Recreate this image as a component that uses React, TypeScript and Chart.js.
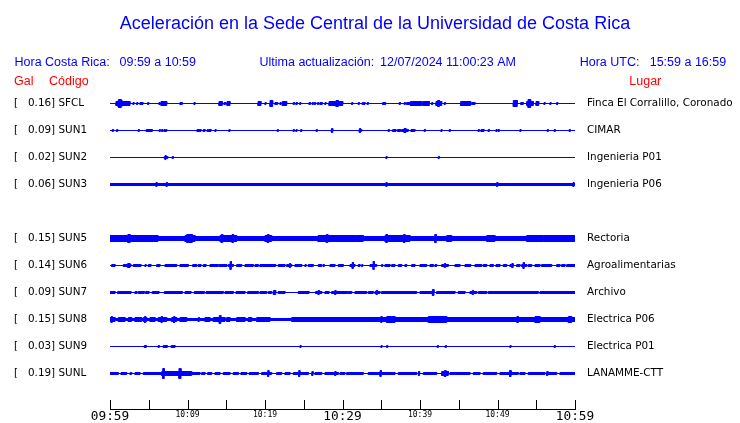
import React, { useEffect, useRef } from 'react';
import { Chart, registerables } from 'chart.js';

Chart.register(...registerables);

// ---------- Texts ----------
const TITLE = 'Aceleración en la Sede Central de la Universidad de Costa Rica';
const HDR_CR_LABEL = 'Hora Costa Rica:';
const HDR_CR_RANGE = '09:59 a 10:59';
const HDR_UPD_LABEL = 'Ultima actualización:';
const HDR_UPD_VALUE = '12/07/2024 11:00:23 AM';
const HDR_UTC_LABEL = 'Hora UTC:';
const HDR_UTC_RANGE = '15:59 a 16:59';
const COL_GAL = 'Gal';
const COL_CODE = 'Código';
const COL_PLACE = 'Lugar';

// ---------- Stations ----------
const ROWS = [0, 1, 2, 3, 4, 5, 6, 7, 8, 9, 10];
const CODES = ['SFCL', 'SUN1', 'SUN2', 'SUN3', '', 'SUN5', 'SUN6', 'SUN7', 'SUN8', 'SUN9', 'SUNL'];
const PEAK_GAL = [0.16, 0.09, 0.02, 0.06, null, 0.15, 0.14, 0.09, 0.15, 0.03, 0.19];
const PLACES = [
  'Finca El Corralillo, Coronado', 'CIMAR', 'Ingenieria P01', 'Ingenieria P06', '',
  'Rectoria', 'Agroalimentarias', 'Archivo', 'Electrica P06', 'Electrica P01', 'LANAMME-CTT',
];

// ---------- Time axis (minutes after 09:59) ----------
const X_TICK_LABELS = ['09:59', '', '10:09', '', '10:19', '', '10:29', '', '10:39', '', '10:49', '', '10:59'];
const X_MAJOR_LABELS = ['09:59', '10:29', '10:59'];

// Trace amplitude unit: one row spacing = 27 units
const AMP_UNITS_PER_ROW = 27;
// background noise half-amplitude and default burst half-amplitude per station
const NOISE = [0, 0, 0, 1, 0, 2, 0, 0, 1, 0, 0];
const BURST_DEFAULT = [1, 1, 1, 2, 0, 2, 1, 1, 2, 1, 1];

// bursts: [start minute, end minute, half amplitude?]
const SFCL = [[0.77,1.03,2],[1.03,1.55,3],[1.1,1.45,4],[1.55,2.58,2],[2.97,3.1],[3.45,3.58],[3.87,4.26],[4.86,4.99],[6.32,6.45],[6.58,7.32,2],[9.03,9.33],[10.84,10.97],[14.06,14.49,2],[14.71,14.93],[15.1,15.48,2],[19.1,19.48,2],[20,20.13],[20.65,20.99,3],[21.29,21.64],[21.94,22.07],[22.23,22.8,2],[23.65,23.8],[24,24.17],[24.48,24.61],[25.68,25.85],[26.1,26.23],[26.36,26.54],[26.8,26.93],[27.1,27.39],[27.74,27.87],[28.26,30.03,2],[29.16,29.46,3],[31.19,31.32],[32.04,32.17],[32.55,32.68],[32.77,32.9],[33.2,33.33],[35.19,35.57],[37.33,37.46],[37.97,38.1],[38.28,38.71],[38.8,40.22,2],[40.35,41.2,2],[41.51,41.64],[42.06,42.8,2],[42.26,42.52,3],[43.14,43.27],[45.25,46.54,2],[46.67,47.1],[52.04,52.55,3],[52.99,53.33],[53.77,54.62,2],[53.94,54.28,4],[54.97,55.32,2],[56,56.13],[56.77,56.9],[57.64,57.77]];
const SUN1 = [[0.3,0.43],[0.86,0.99],[3.65,3.78],[4.68,5.46],[6.36,6.49],[6.67,6.8],[6.97,7.1],[7.19,7.32],[11.23,11.74],[12.04,12.26],[12.55,12.68],[12.77,13.03],[13.55,13.68],[15.35,15.48],[21.59,21.72],[23.65,23.78],[24,24.13],[24.61,24.74],[26.62,26.75],[28.52,28.77],[28.6,28.7,2],[32.13,32.48],[32.2,32.33,2],[35.91,36.04],[36.48,36.9],[37.12,37.51],[37.64,38.49],[37.94,38.19,2],[38.84,39.35],[40.55,40.68],[42.71,42.84],[43.78,43.91],[47.52,47.65],[47.87,48.26],[48.81,48.94],[49.81,49.94],[50.1,50.23],[52.9,53.03],[56.43,56.56],[57.33,57.46],[59.26,59.39]];
const SUN2 = [[7.01,7.45],[7.1,7.23,2],[8.04,8.17],[35.61,35.74],[42.36,42.49]];
const SUN3 = [[5.94,6.07],[7.26,7.39],[35.61,35.74],[49.9,50.03],[59.74,59.87]];
const SUN5 = [[0,6.19,3],[2.3,2.6,4],[9.68,10.97,3],[9.9,10.62,4],[14.19,16.35,3],[14.35,14.55,4],[15.75,15.95,4],[20,20.86,3],[20.3,20.5,4],[26.84,31.83,3],[27.9,28.1,4],[31.83,32.68,3],[35.48,38.71,3],[35.6,35.8,4],[37.87,38.07,4],[41.9,42.1,4],[43.45,44.09,3],[48.61,49.68,3],[53.77,55.91,3],[55.91,60,3]];
const SUN6 = [[0.22,0.65],[1.72,2.71],[2.28,2.58,2],[3.01,4],[4.52,4.65],[4.94,5.29],[6.03,6.45],[7.1,8.61],[9.03,10.1],[10.67,11.19],[11.39,11.74],[12.04,12.39],[12.9,13.97],[14.1,15.06],[15.26,15.91],[15.5,15.65,4],[16.35,16.99],[17.42,18.49],[18.71,19.14],[19.35,21.38],[21.72,22.58],[22.8,23.45],[23.15,23.3,2],[23.87,24.74],[25.16,25.3],[25.59,26.23],[26.88,27.32],[27.52,27.65],[28.39,29.03],[29.46,30.1],[30.97,31.61],[31.25,31.4,3],[32.04,32.26],[32.48,32.6],[33.55,34.41],[33.95,34.1,4],[35.05,35.18],[35.48,36.13],[36.35,36.77],[37.2,37.64],[38.06,38.28],[38.93,39.35],[40,40.86],[41.29,41.72],[41.94,42.15],[42.8,43.65],[43.15,43.3,2],[44.52,45.16],[45.81,46.54],[47.1,47.96],[48.17,48.61],[49.03,49.46],[49.81,50.32],[50.75,51.19],[51.61,52.04],[51.85,52,2],[52.48,52.9],[53.12,53.77],[53.3,53.45,3],[53.97,54.41],[54.84,55.48],[55.7,56.99],[57.64,58.06],[58.28,58.71],[58.93,60]];
const SUN7 = [[0,0.65],[0.99,2.71],[3.23,3.48],[3.65,4.43],[4.61,5.03],[5.46,6.32],[7.01,9.33],[9.68,10.45],[10.88,12.17],[12.39,14.62],[14.84,15.91],[16.26,17.42],[17.77,19.14],[19.35,20.22],[20.43,20.86],[21.08,21.38,2],[21.72,22.58],[24.3,25.68],[26.54,27.32],[26.85,27,2],[27.74,28.26],[28.61,30.65],[29,29.15,2],[30.75,31.19],[31.61,33.12],[33.33,33.97],[34.19,34.84],[34.35,34.5,2],[35.05,39.57],[40,41.51],[41.6,41.8,3],[42.15,44.52],[44.94,45.81],[46.45,47.32],[46.75,46.9,2],[47.52,48.61],[48.81,55.26],[55.48,60]];
const SUN8 = [[0,0.65],[0.15,0.3,3],[1.07,1.94],[2.36,2.8],[3.23,4.09],[4.3,4.74],[4.45,4.6,3],[5.16,5.81],[6.23,7.32],[6.6,6.75,3],[7.96,8.61],[8.2,8.35,3],[9.03,9.9],[11.39,11.52],[12.26,12.9],[13.33,14.84],[14.1,14.3,4],[15.06,15.48],[16.35,17.42],[17.85,18.28],[18.93,20.65],[23.45,60],[34.95,35.1,3],[35.7,36.77,3],[41.07,43.45,3],[52.5,52.7,3],[54.84,55.48,3],[59.14,59.57,3]];
const SUN9 = [[4.43,4.68],[6.23,6.36],[6.88,7.39],[7.91,8.39],[24.52,24.65],[34.97,35.1],[35.7,35.83],[42.23,42.36],[43.26,43.39],[51.61,51.74],[57.33,57.46]];
const SUNL = [[0,1.07],[1.42,2.15],[2.58,2.8],[3.23,3.87],[4.3,6.67],[6.67,10.54,2],[6.8,7,5],[8.9,9.16,5],[10.54,11.61],[11.83,12.26],[12.6,13.12],[13.55,14.19],[14.62,15.48],[15.91,16.56],[16.9,17.64],[17.97,19.14],[19.57,20.86],[20.35,20.5,3],[21.5,22.15],[22.58,23.23],[23.65,25.59],[24.35,24.5,3],[26.05,26.2,2],[26.45,27.32],[27.74,29.46],[29,29.15,2],[29.68,30.32],[30.54,32.68],[33.33,36.77],[34.85,35,3],[37.2,39.57],[39.8,39.95,2],[40.43,42.15],[42.8,43.65,2],[43.15,43.35,3],[43.87,46.45],[46.88,47.74],[48.17,49.89],[50.32,52.68],[51.55,51.75,3],[52.9,53.55],[53.97,56.13],[56.35,56.5,2],[56.55,57.64],[58.06,60]];

const TRACES = [SFCL, SUN1, SUN2, SUN3, null, SUN5, SUN6, SUN7, SUN8, SUN9, SUNL];

const BLUE = '#0000ff';
const RED = '#ff0000';

const LEFT_LABELS = ROWS.map((r) => (PEAK_GAL[r] == null ? '' : `[   ${(PEAK_GAL[r] as number).toFixed(2)}] ${CODES[r]}`));

function envelope(base: number, segs: number[][], def: number) {
  const set = new Set<number>([0, 60]);
  segs.forEach((s) => { set.add(s[0]); set.add(s[1]); });
  const xs = Array.from(set).sort((a, b) => a - b);
  const pts: { x: number; a: number }[] = [];
  for (let i = 0; i < xs.length - 1; i++) {
    const m = (xs[i] + xs[i + 1]) / 2;
    let a = base;
    for (const s of segs) if (s[0] <= m && m <= s[1]) a = Math.max(a, s.length > 2 ? s[2] : def);
    pts.push({ x: xs[i], a }, { x: xs[i + 1], a });
  }
  return pts;
}

function buildDatasets() {
  const ds: any[] = [];
  ROWS.forEach((r) => {
    const segs = TRACES[r];
    if (!segs) return;
    const env = envelope(NOISE[r], segs, BURST_DEFAULT[r]);
    const common = {
      borderColor: BLUE, backgroundColor: BLUE, borderWidth: 1, pointRadius: 0,
      tension: 0, yAxisID: 'y',
    };
    ds.push({ ...common, label: CODES[r] + '+', data: env.map((p) => ({ x: p.x, y: r - p.a / AMP_UNITS_PER_ROW })), fill: false });
    ds.push({ ...common, label: CODES[r] + '-', data: env.map((p) => ({ x: p.x, y: r + p.a / AMP_UNITS_PER_ROW })), fill: '-1' });
  });
  return ds;
}

const Y_MIN = -0.5;
const Y_MAX = 11.3148;

const headerPlugin = {
  id: 'seismoHeader',
  afterDraw(chart: any) {
    const ctx = chart.ctx as CanvasRenderingContext2D;
    ctx.save();
    ctx.textBaseline = 'alphabetic';
    ctx.fillStyle = BLUE;
    ctx.textAlign = 'center';
    ctx.font = '18px "Liberation Sans", Arial, sans-serif';
    ctx.fillText(TITLE, 375, 29);
    ctx.textAlign = 'left';
    ctx.font = '12.5px "Liberation Sans", Arial, sans-serif';
    ctx.fillText(HDR_CR_LABEL, 14.5, 65.5);
    ctx.fillText(HDR_CR_RANGE, 119.5, 65.5);
    ctx.fillText(HDR_UPD_LABEL, 259.5, 65.5);
    ctx.fillText(HDR_UPD_VALUE, 380, 65.5);
    ctx.fillText(HDR_UTC_LABEL, 579.7, 65.5);
    ctx.fillText(HDR_UTC_RANGE, 649.7, 65.5);
    ctx.fillStyle = RED;
    ctx.fillText(COL_GAL, 14, 84.5);
    ctx.fillText(COL_CODE, 49, 84.5);
    ctx.fillText(COL_PLACE, 629.3, 84.5);
    // upward tick marks on the time axis
    const xs = chart.scales.x;
    const bottom = chart.chartArea.bottom;
    ctx.strokeStyle = '#000';
    ctx.lineWidth = 1;
    xs.ticks.forEach((t: any) => {
      const px = Math.round(xs.getPixelForValue(t.value)) + 0.5;
      ctx.beginPath();
      ctx.moveTo(px, bottom - 9);
      ctx.lineTo(px, bottom + 0.5);
      ctx.stroke();
    });
    ctx.restore();
  },
};

const rowAxisFit = (w: number) => (s: any) => {
  s.width = w;
  s.paddingTop = 0;
  s.paddingBottom = 0;
};

export default function App() {
  const ref = useRef<HTMLCanvasElement | null>(null);
  useEffect(() => {
    if (!ref.current) return;
    const chart = new Chart(ref.current, {
      type: 'line',
      data: { datasets: buildDatasets() },
      options: {
        animation: false,
        responsive: false,
        devicePixelRatio: 1,
        layout: { padding: { top: 90, left: 14, right: 0, bottom: 0 } },
        plugins: { legend: { display: false }, tooltip: { enabled: false }, title: { display: false } },
        scales: {
          x: {
            type: 'linear', position: 'bottom', min: 0, max: 60,
            afterFit: (s: any) => { s.height = 14; },
            grid: { display: false, drawTicks: false },
            border: { display: true, color: '#000', width: 1 },
            ticks: {
              stepSize: 5, autoSkip: false, maxRotation: 0, padding: 0, color: '#000',
              callback: (v: any) => X_TICK_LABELS[Math.round(Number(v) / 5)] ?? '',
              font: (c: any) => {
                const lab = c.tick ? X_TICK_LABELS[Math.round(c.tick.value / 5)] : '';
                return X_MAJOR_LABELS.includes(lab)
                  ? { family: '"DejaVu Sans Mono", monospace', size: 12.8, lineHeight: '15px' }
                  : { family: '"DejaVu Sans Mono", monospace', size: 8, lineHeight: '12px' };
              },
            },
          },
          y: {
            type: 'linear', position: 'left', reverse: true, min: Y_MIN, max: Y_MAX,
            afterFit: rowAxisFit(96),
            afterBuildTicks: (s: any) => { s.ticks = ROWS.map((v) => ({ value: v })); },
            grid: { display: false, drawTicks: false },
            border: { display: false },
            ticks: {
              autoSkip: false, crossAlign: 'far', color: '#000', padding: 0,
              font: { family: '"DejaVu Sans", sans-serif', size: 10.4 },
              callback: (v: any) => LEFT_LABELS[Math.round(Number(v))] ?? '',
            },
          },
          y2: {
            type: 'linear', position: 'right', reverse: true, min: Y_MIN, max: Y_MAX,
            afterFit: rowAxisFit(165),
            afterBuildTicks: (s: any) => { s.ticks = ROWS.map((v) => ({ value: v })); },
            grid: { display: false, drawTicks: false },
            border: { display: false },
            ticks: {
              autoSkip: false, color: '#000', padding: 12,
              font: { family: '"DejaVu Sans", sans-serif', size: 10.4 },
              callback: (v: any) => PLACES[Math.round(Number(v))] ?? '',
            },
          },
        },
      } as any,
      plugins: [headerPlugin],
    });
    return () => chart.destroy();
  }, []);
  return (
    <div style={{ position: 'absolute', left: 0, top: 0, width: 740, height: 423, background: '#fff' }}>
      <canvas ref={ref} width={740} height={423} style={{ display: 'block' }} />
    </div>
  );
}
